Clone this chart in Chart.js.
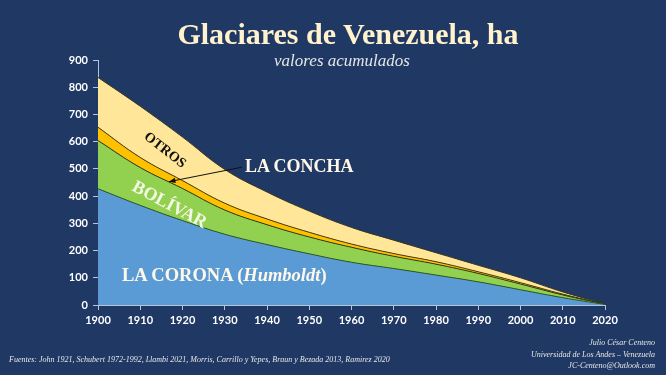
<!DOCTYPE html>
<html>
<head>
<meta charset="utf-8">
<script src="https://cdn.jsdelivr.net/npm/chart.js@4"></script>
<style>
    html, body { margin: 0; padding: 0; background: #1f3864; }
    #caja { position: relative; width: 666px; height: 375px; overflow: hidden; }
    #grafico { position: absolute; left: 0; top: 0; }
    .txt { position: absolute; font-family: "Liberation Serif", "DejaVu Serif", serif; white-space: nowrap; }
</style>
</head>
<body>
<div id="caja">
    <canvas id="grafico" width="666" height="375"></canvas>

    <div class="txt" style="left:148px; width:400px; top:19px; text-align:center; font-size:30px; line-height:30px; font-weight:bold; color:#fff2cc;">Glaciares de Venezuela, ha</div>
    <div class="txt" style="left:242px; width:200px; top:52px; text-align:center; font-size:17px; line-height:17px; font-style:italic; color:#e6e6e6;">valores acumulados</div>

    <div class="txt" style="left:245px; top:157px; font-size:18px; line-height:18px; font-weight:bold; color:#fff8e8;">LA CONCHA</div>
    <div class="txt" style="left:165px; top:150px; font-size:14px; line-height:14px; font-weight:bold; color:#111; transform: translate(-50%, -50%) rotate(38deg);">OTROS</div>
    <div class="txt" style="left:170px; top:204px; font-size:18px; line-height:18px; font-weight:bold; color:#f4f8e6; transform: translate(-50%, -50%) rotate(28deg);">BOLÍVAR</div>
    <div class="txt" style="left:122px; top:266px; font-size:18.5px; line-height:18.5px; font-weight:bold; color:#fff8e8;">LA CORONA (<i>Humboldt</i>)</div>

    <div class="txt" style="left:9px; top:356px; font-size:8px; line-height:8px; font-style:italic; color:#e8e8e8;">Fuentes: John 1921, Schubert 1972-1992, Llambi 2021, Morris, Carrillo y Yepes, Braun y Bezada 2013, Ramirez 2020</div>
    <div class="txt" style="right:11px; top:337px; text-align:right; font-size:8px; line-height:11.5px; font-style:italic; color:#e8e8e8;">Julio César Centeno<br>Universidad de Los Andes – Venezuela<br>JC-Centeno@Outlook.com</div>
</div>

<script>
// valores (ha), apilados
var anos = ['1900', '1910', '1920', '1930', '1940', '1950', '1960', '1970', '1980', '1990', '2000', '2010', '2020'];
var corona = [427, 366, 310, 260, 222, 188, 157, 134, 110, 85, 56, 27, 2];
var bolivar = [177, 139, 118, 89, 73, 62, 55, 45, 40, 31, 21, 10, 1];
var concha = [49, 37, 29, 25, 21, 17, 12, 10, 9, 6, 5, 3, 0];
var otros = [183, 188, 160, 124, 99, 78, 61, 49, 33, 24, 18, 8, 1];
var ticksY = [0, 100, 200, 300, 400, 500, 600, 700, 800, 900];

// flecha de "LA CONCHA": desde el texto hasta la banda naranja
var flecha = {
    id: 'flecha',
    afterDatasetsDraw: function (chart) {
        var x = chart.scales.x, y = chart.scales.y, ctx = chart.ctx;
        var x1 = x.getPixelForValue(3.4), y1 = y.getPixelForValue(506);
        var x2 = x.getPixelForValue(1.68), y2 = y.getPixelForValue(453);
        var ang = Math.atan2(y2 - y1, x2 - x1);
        ctx.save();
        ctx.strokeStyle = '#111';
        ctx.fillStyle = '#111';
        ctx.lineWidth = 1;
        ctx.beginPath();
        ctx.moveTo(x1, y1);
        ctx.lineTo(x2, y2);
        ctx.stroke();
        ctx.beginPath();
        ctx.moveTo(x2, y2);
        ctx.lineTo(x2 - 7 * Math.cos(ang - 0.4), y2 - 7 * Math.sin(ang - 0.4));
        ctx.lineTo(x2 - 7 * Math.cos(ang + 0.4), y2 - 7 * Math.sin(ang + 0.4));
        ctx.closePath();
        ctx.fill();
        ctx.restore();
    }
};

var ctx = document.getElementById('grafico').getContext('2d');
var myChart = new Chart(ctx, {
    type: 'line',
    data: {
        labels: anos,
        datasets: [
            { label: 'La Corona', data: corona, backgroundColor: '#5b9bd5', borderColor: '#2e5a1c', fill: 'origin' },
            { label: 'Bolívar', data: bolivar, backgroundColor: '#92d050', borderColor: 'rgba(35, 45, 20, 0.9)', fill: '-1' },
            { label: 'La Concha', data: concha, backgroundColor: '#ffc000', borderColor: '#4a3a10', fill: '-1' },
            { label: 'Otros', data: otros, backgroundColor: '#ffe699', borderColor: '#3a3520', fill: '-1' }
        ]
    },
    options: {
        responsive: false,
        animation: false,
        layout: { padding: { left: 0, right: 61, top: 60, bottom: 0 } },
        elements: {
            point: { radius: 0 },
            line: { borderWidth: 1, tension: 0.4 }
        },
        plugins: {
            legend: { display: false },
            tooltip: { enabled: false }
        },
        scales: {
            x: {
                offset: false,
                afterFit: function (s) { s.height = 70; },
                grid: { drawOnChartArea: false, drawTicks: true, tickLength: 5, color: '#b7c3d6' },
                border: { color: '#b7c3d6', width: 1 },
                ticks: {
                    color: '#ffffff',
                    padding: 4,
                    maxRotation: 0,
                    autoSkip: false,
                    font: { family: 'Lato', size: 11, weight: 'bold' }
                }
            },
            y: {
                stacked: true,
                min: 0,
                max: 900,
                afterFit: function (s) { s.width = 98; },
                afterBuildTicks: function (s) { s.ticks = ticksY.map(function (v) { return { value: v }; }); },
                grid: { drawOnChartArea: false, drawTicks: true, tickLength: 5, color: '#b7c3d6' },
                border: { color: '#b7c3d6', width: 1 },
                ticks: {
                    color: '#ffffff',
                    padding: 5,
                    font: { family: 'Lato', size: 11, weight: 'bold' }
                }
            }
        }
    },
    plugins: [flecha]
});
</script>
</body>
</html>
